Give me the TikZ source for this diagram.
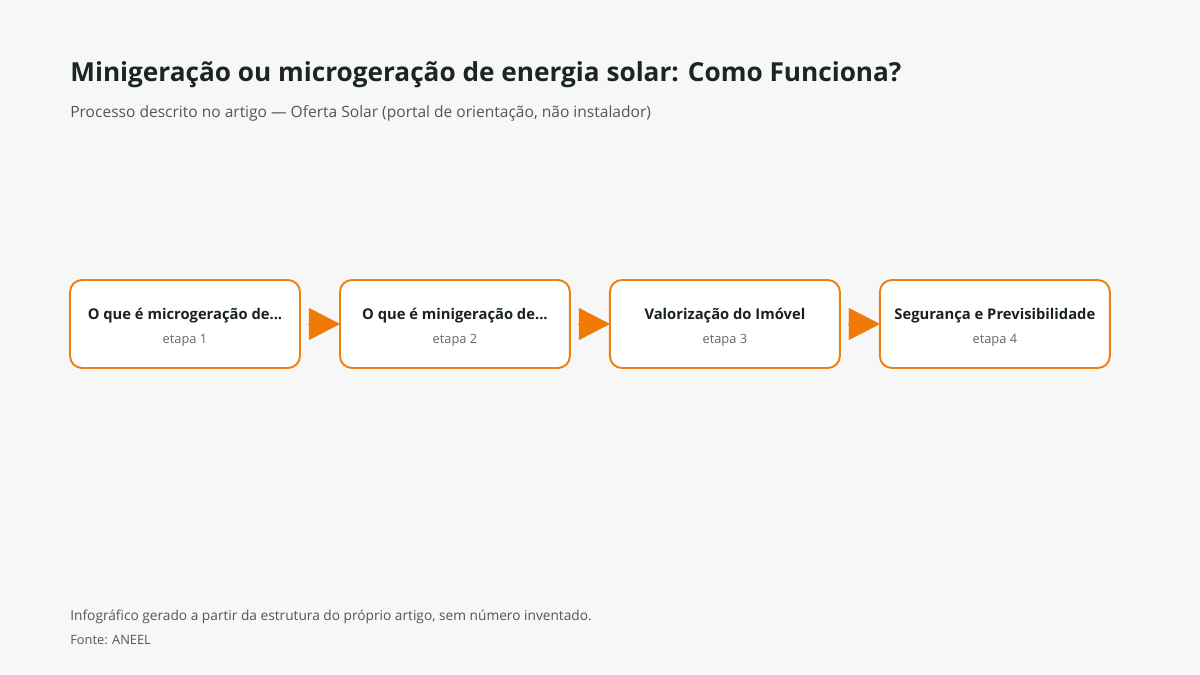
\documentclass[tikz,border=0pt]{standalone}
\usepackage{fontspec}
\setmainfont{Open Sans}
\usetikzlibrary{positioning, arrows.meta}

\definecolor{pagebg}{HTML}{F7F7F7}
\definecolor{titlecol}{HTML}{1C2620}
\definecolor{subcol}{HTML}{555555}
\definecolor{stepcol}{HTML}{666666}
\definecolor{boxorange}{HTML}{EC8112}
\definecolor{arroworange}{HTML}{F07A05}

\tikzset{
    stagebox/.style={draw=boxorange, line width=1.1pt, fill=white, rounded corners=0.24cm,
        minimum width=4.6cm, minimum height=1.76cm, align=center, inner sep=0pt, outer sep=0pt,
        font=\fontsize{8.4}{13.5}\selectfont, text=titlecol!90!black},
    flowarrow/.style={draw=arroworange, line width=0.1pt, shorten <=0.16cm,
        -{Triangle[length=0.62cm, width=0.64cm, fill=arroworange]}},
    pagetext/.style={anchor=base west, inner sep=0pt}
}
\newcommand{\steplabel}[1]{{\fontsize{7.3}{13.5}\selectfont\color{stepcol}#1}}
\newcommand{\stagetitle}[1]{\rule{0pt}{10.5pt}\textbf{#1}}

\begin{document}
\begin{tikzpicture}[x=0.02cm, y=-0.02cm, node distance=0.8cm]
    % page
    \fill[pagebg] (0,0) rectangle (1200,675);

    % heading
    \node[pagetext, text=titlecol, font=\fontsize{14.9}{17}\selectfont\bfseries]
        (title) at (70,82) {Minigeração ou microgeração de energia solar: Como Funciona?};
    \node[pagetext, text=subcol, font=\fontsize{8.85}{11}\selectfont]
        (subtitle) at (70,118) {Processo descrito no artigo — Oferta Solar (portal de orientação, não instalador)};

    % stages
    \node[stagebox] (s1) at (185,324) {\stagetitle{O que é microgeração de...}\\ \steplabel{etapa 1}};
    \node[stagebox, right=of s1] (s2) {\stagetitle{O que é minigeração de...}\\ \steplabel{etapa 2}};
    \node[stagebox, right=of s2] (s3) {\stagetitle{Valorização do Imóvel}\\ \steplabel{etapa 3}};
    \node[stagebox, right=of s3] (s4) {\stagetitle{Segurança e Previsibilidade}\\ \steplabel{etapa 4}};

    \draw[flowarrow] (s1) -- (s2);
    \draw[flowarrow] (s2) -- (s3);
    \draw[flowarrow] (s3) -- (s4);

    % footer
    \node[pagetext, text=subcol, font=\fontsize{7.8}{10}\selectfont]
        (note) at (70,620) {Infográfico gerado a partir da estrutura do próprio artigo, sem número inventado.};
    \node[pagetext, text=subcol, font=\fontsize{7.3}{10}\selectfont]
        (source) at (70,644) {Fonte: ANEEL};
\end{tikzpicture}
\end{document}
